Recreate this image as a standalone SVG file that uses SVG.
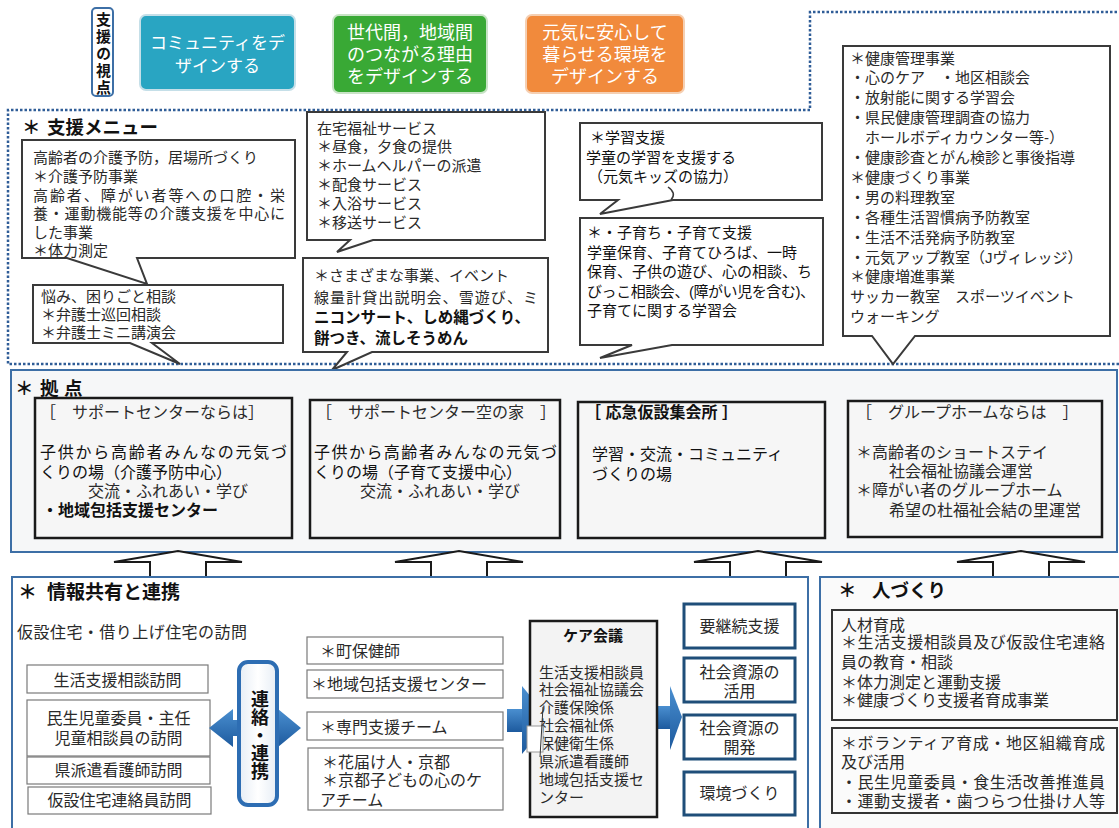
<svg xmlns="http://www.w3.org/2000/svg" width="1119" height="828" viewBox="0 0 1119 828">
<defs>
<style>
text { font-family: "Liberation Sans", "Noto Sans CJK JP", sans-serif; fill: #2a2a2a; font-size: 15px; }
.t16 { font-size: 16px; }
.b { font-weight: bold; }
.dk { fill: #111; }
.h { font-size: 18.5px; font-weight: bold; fill: #111; }
.wt { fill: #fff; }
.mid { text-anchor: middle; }
.vt { writing-mode: vertical-rl; font-weight: bold; fill: #111; }
.call { fill: #fff; stroke: #3a3a3a; stroke-width: 2; }
.sec { fill: #fff; stroke: #3d6fa6; stroke-width: 2; }
.kbox { fill: #f6f6f6; stroke: #1a1a1a; stroke-width: 2.5; }
.gbox { fill: #fff; stroke: #7a7a7a; stroke-width: 1.2; }
.bbox { fill: #fff; stroke: #1f4e79; stroke-width: 3; }
.ibox { fill: #fbfbfb; stroke: #333; stroke-width: 2; }
.up { fill: #fff; stroke: #1a1a1a; stroke-width: 2; }
.dot { fill: none; stroke: #2f5d97; stroke-width: 2.5; stroke-dasharray: 2.5 2; }
.blue { fill: url(#bl); }
</style>
<linearGradient id="bl" x1="0" y1="0" x2="0" y2="1">
<stop offset="0" stop-color="#4a8fd0"/>
<stop offset="1" stop-color="#1d5a9e"/>
</linearGradient>
<linearGradient id="vb" x1="0" y1="0" x2="1" y2="0">
<stop offset="0" stop-color="#e6edf5"/>
<stop offset="0.5" stop-color="#ffffff"/>
<stop offset="1" stop-color="#e6edf5"/>
</linearGradient>
</defs>

<!-- dotted frame -->
<path class="dot" d="M1119 364 H8 V110 H810 V12 H1119"/>

<!-- top viewpoint boxes -->
<g id="viewpoint">
<rect x="92" y="8" width="21" height="88" rx="4" fill="#fff" stroke="#3d6fa6" stroke-width="2"/>
<text class="vt" x="102.5" y="12" style="font-size:15px; letter-spacing:2px">支援の視点</text>
</g>
<g id="design-community">
<rect x="140" y="15" width="155" height="75" rx="6" fill="#29a5c2" stroke="#c5dfe8" stroke-width="2"/>
<text class="wt mid" font-size="17" style="font-size:17px" x="217.5" y="49">コミュニティをデ</text>
<text class="wt mid" style="font-size:17px" x="217.5" y="72">ザインする</text>
</g>
<g id="design-link">
<rect x="333" y="15" width="154" height="78" rx="6" fill="#39a935" stroke="#c8e3c6" stroke-width="2"/>
<text class="wt mid" style="font-size:18px" x="410" y="39">世代間，地域間</text>
<text class="wt mid" style="font-size:18px" x="410" y="61">のつながる理由</text>
<text class="wt mid" style="font-size:18px" x="410" y="83">をデザインする</text>
</g>
<g id="design-env">
<rect x="526" y="15" width="158" height="78" rx="6" fill="#f18a3c" stroke="#f5cfb2" stroke-width="2"/>
<text class="wt mid" style="font-size:18px" x="605" y="39">元気に安心して</text>
<text class="wt mid" style="font-size:18px" x="605" y="61">暮らせる環境を</text>
<text class="wt mid" style="font-size:18px" x="605" y="83">デザインする</text>
</g>

<!-- support menu -->
<g id="menu-title">
<text class="h" x="22" y="134"><tspan x="22">＊</tspan><tspan x="47">支援メニュー</tspan></text>
</g>
<g id="menu-care">
<path class="call" d="M22 140 H295 V258 H137 L147 284 L67 258 H22 Z"/>
<text x="33" y="162.5">高齢者の介護予防，居場所づくり</text>
<text x="33" y="182">＊介護予防事業</text>
<text x="33" y="200.5" textLength="252" lengthAdjust="spacing">高齢者、障がい者等への口腔・栄</text>
<text x="33" y="219" textLength="252" lengthAdjust="spacing">養・運動機能等の介護支援を中心に</text>
<text x="33" y="237.5">した事業</text>
<text x="33" y="255.5">＊体力測定</text>
</g>
<g id="menu-consult">
<path class="call" d="M33 285 H283 V343 H152 L180 364 L130 343 H33 Z"/>
<text x="41" y="302">悩み、困りごと相談</text>
<text x="41" y="320">＊弁護士巡回相談</text>
<text x="41" y="338">＊弁護士ミニ講演会</text>
</g>
<g id="menu-home">
<path class="call" d="M307 112 H545 V240 H373 L337 252 L350 240 H307 Z"/>
<text x="317" y="133.5">在宅福祉サービス</text>
<text x="317" y="152.3">＊昼食，夕食の提供</text>
<text x="317" y="171.1">＊ホームヘルパーの派遣</text>
<text x="317" y="189.9">＊配食サービス</text>
<text x="317" y="208.7">＊入浴サービス</text>
<text x="317" y="227.5">＊移送サービス</text>
</g>
<g id="menu-events">
<path class="call" d="M303 258 H548 V352 H372 L332 370 L347 352 H303 Z"/>
<text x="314" y="280.5">＊さまざまな事業、イベント</text>
<text x="314" y="302.5" textLength="224" lengthAdjust="spacing">線量計貸出説明会、雪遊び、ミ</text>
<text class="b dk" x="314" y="323" style="font-size:15.5px">ニコンサート、しめ縄づくり、</text>
<text class="b dk" x="314" y="344" style="font-size:15.5px">餅つき、流しそうめん</text>
</g>
<g id="menu-study">
<path class="call" d="M580 123 H822 V200 H673 L600 214 L618 200 H580 Z"/>
<path d="M668 187 Q677 193 671 200" fill="none" stroke="#3a3a3a" stroke-width="1.5"/>
<text class="dk" x="590" y="143">＊学習支援</text>
<text class="dk" x="586" y="162.5">学童の学習を支援する</text>
<text class="dk" x="588" y="182">（元気キッズの協力）</text>
</g>
<g id="menu-child">
<path class="call" d="M580 218 H823 V345 H672 L600 358 L632 345 H580 Z"/>
<text class="dk" x="587" y="238">＊・子育ち・子育て支援</text>
<text class="dk" x="587" y="257.5">学童保育、子育てひろば、一時</text>
<text class="dk" x="587" y="277">保育、子供の遊び、心の相談、ち</text>
<text class="dk" x="587" y="296.5" textLength="228" lengthAdjust="spacing">びっこ相談会、(障がい児を含む)、</text>
<text class="dk" x="587" y="316">子育てに関する学習会</text>
</g>
<g id="menu-health">
<path class="call" d="M843 46 H1110 V336 H915 L893 364 L872 336 H843 Z"/>
<text x="850" y="63.5">＊健康管理事業</text>
<text x="850" y="83.4">・心のケア　・地区相談会</text>
<text x="850" y="103.3">・放射能に関する学習会</text>
<text x="850" y="123.2">・県民健康管理調査の協力</text>
<text x="850" y="143.1">　ホールボディカウンター等-）</text>
<text x="850" y="163">・健康診査とがん検診と事後指導</text>
<text x="850" y="182.9">＊健康づくり事業</text>
<text x="850" y="202.8">・男の料理教室</text>
<text x="850" y="222.7">・各種生活習慣病予防教室</text>
<text x="850" y="242.6">・生活不活発病予防教室</text>
<text x="850" y="262.5">・元気アップ教室（Jヴィレッジ）</text>
<text x="850" y="282.4">＊健康増進事業</text>
<text x="850" y="302.3">サッカー教室　スポーツイベント</text>
<text x="850" y="322.2">ウォーキング</text>
</g>

<!-- bases -->
<g id="bases">
<rect class="sec" x="11" y="370" width="1106" height="182" style="fill:#f6f7f8"/>
<text class="h" x="15" y="395"><tspan x="15">＊</tspan><tspan x="40">拠</tspan><tspan x="64">点</tspan></text>
</g>
<g id="base-nara">
<rect class="kbox" x="35" y="398" width="257" height="140"/>
<text class="t16" x="40" y="418">［　サポートセンターならは］</text>
<text class="t16 dk" x="40" y="458" textLength="247" lengthAdjust="spacing">子供から高齢者みんなの元気づ</text>
<text class="t16 dk" x="40" y="478">くりの場（介護予防中心）</text>
<text class="t16" x="88" y="497">交流・ふれあい・学び</text>
<text class="t16 b dk" x="42" y="516">・地域包括支援センター</text>
</g>
<g id="base-sora">
<rect class="kbox" x="310" y="400" width="250" height="138"/>
<text class="t16" x="316" y="418">［　サポートセンター空の家　］</text>
<text class="t16 dk" x="314" y="458" textLength="243" lengthAdjust="spacing">子供から高齢者みんなの元気づ</text>
<text class="t16 dk" x="314" y="478">くりの場（子育て支援中心）</text>
<text class="t16" x="360" y="497">交流・ふれあい・学び</text>
</g>
<g id="base-hall">
<rect class="kbox" x="578" y="402" width="247" height="136"/>
<text class="t16 b dk" x="585" y="418">［ 応急仮設集会所 ］</text>
<text class="t16 dk" x="592" y="460">学習・交流・コミュニティ</text>
<text class="t16 dk" x="592" y="480">づくりの場</text>
</g>
<g id="base-group">
<rect class="kbox" x="848" y="401" width="254" height="136"/>
<text class="t16" x="856" y="418">［　グループホームならは　］</text>
<text class="t16" x="856" y="458">＊高齢者のショートステイ</text>
<text class="t16" x="889" y="477">社会福祉協議会運営</text>
<text class="t16" x="856" y="496">＊障がい者のグループホーム</text>
<text class="t16" x="889" y="516">希望の杜福祉会結の里運営</text>
</g>

<!-- connectors -->
<g id="connectors">
<path class="up" d="M150 577 V562 H114 L178 551 L242 562 H206 V577"/>
<path class="up" d="M431 577 V562 H395 L459 551 L523 562 H487 V577"/>
<path class="up" d="M730 577 V562 H694 L758 551 L822 562 H786 V577"/>
<path class="up" d="M993 577 V562 H957 L1021 551 L1085 562 H1049 V577"/>
</g>

<!-- info sharing -->
<g id="info">
<rect class="sec" x="12" y="577" width="796" height="262"/>
<text class="h" x="18" y="599" style="font-size:19px"><tspan x="18">＊</tspan><tspan x="47">情報共有と連携</tspan></text>
<text class="t16" x="17" y="638" textLength="230" lengthAdjust="spacing">仮設住宅・借り上げ住宅の訪問</text>
</g>
<g id="visit-life">
<rect class="gbox" x="27" y="665" width="181" height="28"/>
<text class="t16 mid" x="117.5" y="685.5">生活支援相談訪問</text>
</g>
<g id="visit-welfare">
<rect class="gbox" x="27" y="700" width="183" height="56"/>
<text class="t16 mid" x="118.5" y="724">民生児童委員・主任</text>
<text class="t16 mid" x="118.5" y="744">児童相談員の訪問</text>
</g>
<g id="visit-nurse">
<rect class="gbox" x="27" y="757" width="183" height="27"/>
<text class="t16 mid" x="118.5" y="776">県派遣看護師訪問</text>
</g>
<g id="visit-contact">
<rect class="gbox" x="28" y="787" width="183" height="27"/>
<text class="t16 mid" x="119.5" y="806">仮設住宅連絡員訪問</text>
</g>
<g id="liaison">
<polygon class="blue" points="209,728 233,709 233,720 278,720 278,709 301,728 278,747 278,736 233,736 233,747"/>
<rect x="239" y="662" width="38" height="143" rx="9" fill="url(#vb)" stroke="#2d6db3" stroke-width="4"/>
<text class="vt" x="258" y="690" style="font-size:18px">連絡・連携</text>
</g>
<g id="org-nurse">
<rect class="gbox" x="307" y="637" width="196" height="27"/>
<text class="t16" x="320" y="657">＊町保健師</text>
</g>
<g id="org-center">
<rect class="gbox" x="307" y="670" width="196" height="28"/>
<text class="t16" x="311" y="689.5">＊地域包括支援センター</text>
</g>
<g id="org-team">
<rect class="gbox" x="307" y="712" width="196" height="28"/>
<text class="t16" x="320" y="732.5">＊専門支援チーム</text>
</g>
<g id="org-kyoto">
<rect class="gbox" x="308" y="748" width="195" height="62"/>
<text class="t16" x="322" y="768">＊花届け人・京都</text>
<text class="t16" x="322" y="786">＊京都子どもの心のケ</text>
<text class="t16" x="320" y="806">アチーム</text>
</g>
<g id="arrow-in">
<rect class="blue" x="507" y="709" width="19" height="23"/>
<polygon class="blue" points="522,686 550,720 522,754"/>
</g>
<g id="arrow-out">
<rect class="blue" x="657" y="706" width="15" height="23"/>
<polygon class="blue" points="670,686 682,717 670,750"/>
</g>
<g id="care-meeting">
<rect class="kbox" x="530" y="621" width="127" height="196" style="fill:#f3f3f3"/>
<text class="b mid dk" x="593" y="641">ケア会議</text>
<text x="539" y="677.5">生活支援相談員</text>
<text x="539" y="695.4">社会福祉協議会</text>
<text x="539" y="713.3">介護保険係</text>
<text x="539" y="731.2">社会福祉係</text>
<text x="539" y="749.1">保健衛生係</text>
<text x="539" y="767">県派遣看護師</text>
<text x="539" y="784.9">地域包括支援セ</text>
<text x="539" y="802.8">ンター</text>
<rect x="527" y="726" width="16" height="26" fill="#fff" stroke="#999" stroke-width="1"/>
<path d="M543 707 L540 757" fill="none" stroke="#333" stroke-width="1"/>
</g>
<g id="res-continue">
<rect class="bbox" x="684" y="604" width="111" height="44"/>
<text class="t16 mid" x="739.5" y="632">要継続支援</text>
</g>
<g id="res-use">
<rect class="bbox" x="684" y="658" width="111" height="44"/>
<text class="t16 mid" x="739.5" y="678">社会資源の</text>
<text class="t16 mid" x="739.5" y="697">活用</text>
</g>
<g id="res-dev">
<rect class="bbox" x="684" y="715" width="111" height="44"/>
<text class="t16 mid" x="739.5" y="734">社会資源の</text>
<text class="t16 mid" x="739.5" y="753">開発</text>
</g>
<g id="res-env">
<rect class="bbox" x="684" y="772" width="111" height="43"/>
<text class="t16 mid" x="739.5" y="799">環境づくり</text>
</g>

<!-- human resources -->
<g id="people">
<rect class="sec" x="820" y="577" width="305" height="262" style="fill:#fafafa"/>
<text class="h" x="838" y="597"><tspan x="838">＊</tspan><tspan x="872">人づくり</tspan></text>
</g>
<g id="people-train">
<rect class="ibox" x="832" y="610" width="285" height="110"/>
<text class="t16" x="841" y="631">人材育成</text>
<text class="t16" x="841" y="648" textLength="264" lengthAdjust="spacing">＊生活支援相談員及び仮設住宅連絡</text>
<text class="t16" x="841" y="668">員の教育・相談</text>
<text class="t16" x="841" y="688">＊体力測定と運動支援</text>
<text class="t16" x="841" y="706">＊健康づくり支援者育成事業</text>
</g>
<g id="people-volunteer">
<rect class="ibox" x="832" y="728" width="285" height="85"/>
<text class="t16" x="841" y="749" textLength="264" lengthAdjust="spacing">＊ボランティア育成・地区組織育成</text>
<text class="t16" x="841" y="768">及び活用</text>
<text class="t16" x="841" y="788" textLength="264" lengthAdjust="spacing">・民生児童委員・食生活改善推進員</text>
<text class="t16" x="841" y="807" textLength="264" lengthAdjust="spacing">・運動支援者・歯つらつ仕掛け人等</text>
</g>
</svg>
